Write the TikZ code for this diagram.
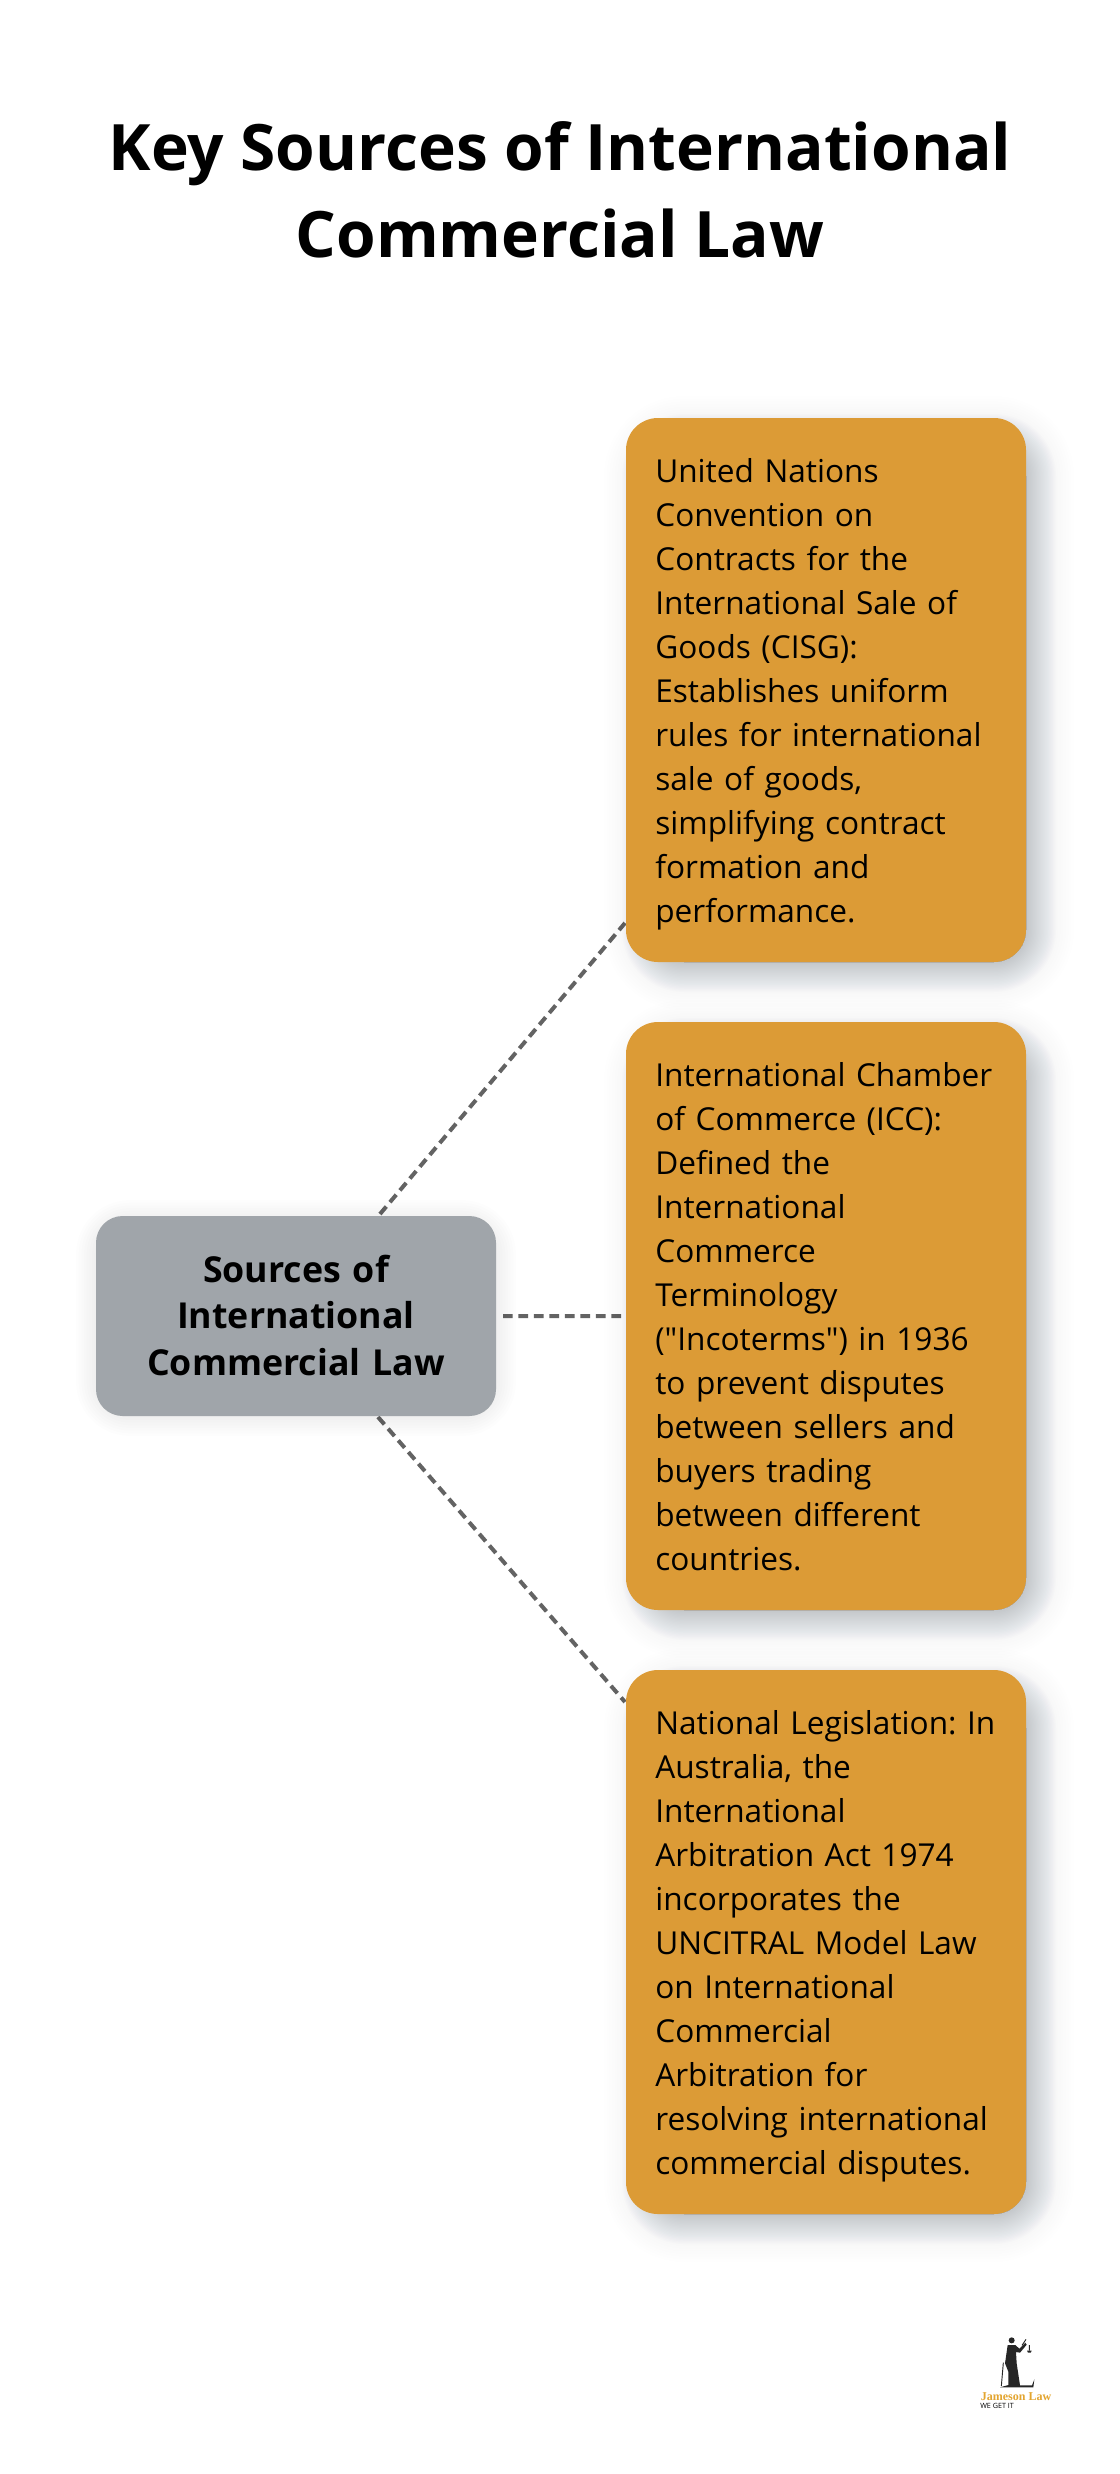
\documentclass[tikz,border=0pt]{standalone}
\usepackage{fontspec}
\setmainfont{Open Sans}
\newfontfamily\bodyfont{Open Sans}
\newfontfamily\logofont{Liberation Serif}
\frenchspacing

\definecolor{infofill}{HTML}{DC9B36}
\definecolor{hubfill}{HTML}{A0A5AA}
\definecolor{linkgray}{HTML}{636363}
\definecolor{logogold}{HTML}{E3A52F}
\definecolor{shadeblue}{HTML}{667080}

\newcommand{\softbox}[8]{% corners, radius, colour, opacity, widths
  \foreach \spread in {#8}
    \draw[#6,opacity=#7,line width=\spread pt,fill,rounded corners=#5pt,line join=round]
      (#1,#2) rectangle (#3,#4);
}

\begin{document}
\begin{tikzpicture}[x=0.75pt,y=-0.75pt,
    infobox/.style={fill=infofill,rounded corners=24pt,minimum width=300pt,inner xsep=22pt,inner ysep=0pt,
      text width=256pt,align=left,font=\bodyfont\fontsize{23.7}{33}\selectfont,
      execute at begin node=\rule{0pt}{25.6pt},
      execute at end node=\rule[-7.35pt]{0pt}{7.35pt}},
    hubbox/.style={fill=hubfill,rounded corners=20pt,minimum width=300pt,minimum height=150pt,inner sep=0pt,
      text width=300pt,align=center,font=\fontsize{26.8}{35}\selectfont\bfseries,
      execute at begin node=\rule{0pt}{26pt},
      execute at end node=\rule[-7pt]{0pt}{7pt}},
    link/.style={draw=linkgray,line width=3pt,dash pattern=on 7.3pt off 4.3pt}]
  \useasboundingbox (0,0) rectangle (1120,2474);
  \fill[white] (0,0) rectangle (1120,2474);

  \node[font=\fontsize{48}{65.5}\selectfont\bfseries,align=center] (title) at (560,190)
    {Key Sources of International\\Commercial Law};

  \coordinate (up) at (380,1214);
  \coordinate (mid) at (503,1316);
  \coordinate (down) at (378,1417);
  \coordinate (cisgend) at (625,923);
  \coordinate (iccend) at (625,1316);
  \coordinate (natend) at (625,1702);
  \draw[link] (up) -- (cisgend) (mid) -- (iccend) (down) -- (natend);

  % shadows
  \softbox{106}{1230}{486}{1406}{18}{black}{0.009}{1,5,...,45}
  \softbox{652}{444}{1026}{962}{24}{black}{0.004}{48,52,...,72}
  \softbox{652}{1048}{1026}{1610}{24}{black}{0.004}{48,52,...,72}
  \softbox{652}{1696}{1026}{2214}{24}{black}{0.004}{48,52,...,72}
  \softbox{652}{444}{1026}{962}{24}{shadeblue}{0.014}{1,3,...,45}
  \softbox{652}{1048}{1026}{1610}{24}{shadeblue}{0.014}{1,3,...,45}
  \softbox{652}{1696}{1026}{2214}{24}{shadeblue}{0.014}{1,3,...,45}

  \node[hubbox] (hub) at (296,1316) {Sources of\\International\\Commercial Law};
  \node[infobox,minimum height=408pt] (cisg) at (826,690) {United Nations\\Convention on\\Contracts for the\\International Sale of\\Goods (CISG):\\Establishes uniform\\rules for international\\sale of goods,\\simplifying contract\\formation and\\performance.};
  \node[infobox,minimum height=441pt] (icc) at (826,1316) {International Chamber\\of Commerce (ICC):\\Defined the\\International\\Commerce\\Terminology\\("Incoterms") in 1936\\to prevent disputes\\between sellers and\\buyers trading\\between different\\countries.};
  \node[infobox,minimum height=408pt] (nat) at (826,1942) {National Legislation: In\\Australia, the\\International\\Arbitration Act 1974\\incorporates the\\UNCITRAL Model Law\\on International\\Commercial\\Arbitration for\\resolving international\\commercial disputes.};

  % logo
  \begin{scope}[shift={(940,2300)},x=0.25pt,y=-0.25pt]
    \fill[black!85] (215,121) circle (9);
    \fill[black!85] (203,135) -- (226,135) -- (238,146) -- (256,128) -- (260,134) -- (240,158) -- (228,156)
      -- (230,190) -- (240,256) -- (276,256) -- (283,238) -- (280,262) -- (180,262) -- (205,255)
      -- (205,215) -- (195,190) -- cycle;
    \draw[black!85,line width=0.7pt] (190,188) -- (184,258) (258,118) -- (246,136) (268,135) -- (268,152);
    \fill[black!85] (261,152) -- (275,152) -- (272,158) -- (264,158) -- cycle;
  \end{scope}
  \node[font=\logofont\fontsize{9}{9}\selectfont\bfseries,text=logogold,inner sep=0pt] (logoname) at (1016,2397) {Jameson Law};
  \node[font=\fontsize{5.4}{6}\selectfont,inner sep=0pt,anchor=west] (logotag) at (980,2406) {WE GET IT};
\end{tikzpicture}
\end{document}
